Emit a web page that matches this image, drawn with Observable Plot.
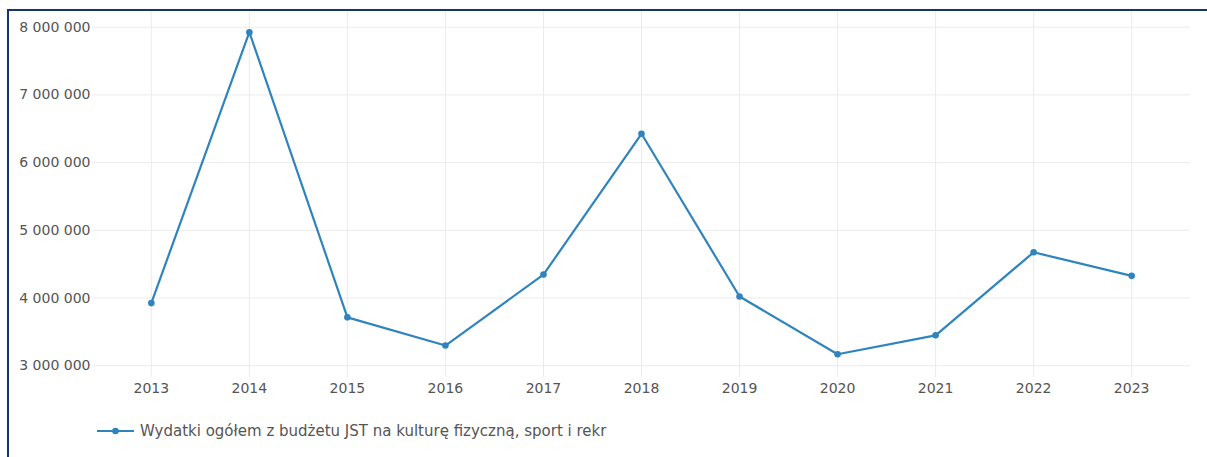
<!DOCTYPE html>
<html>
<head>
<meta charset="utf-8">
<script src="https://cdn.jsdelivr.net/npm/d3@7"></script>
<script src="https://cdn.jsdelivr.net/npm/@observablehq/plot@0.6"></script>
<style>
  html, body { margin: 0; padding: 0; background: #fff; width: 1207px; height: 457px; overflow: hidden; }
  #frame { position: absolute; left: 7px; top: 9px; width: 1300px; height: 600px; border: 2px solid #17346e; box-sizing: border-box; pointer-events: none; }
  #chart { position: absolute; left: 0; top: 0; }
  #legend { position: absolute; left: 97px; top: 421px; height: 20px; display: flex; align-items: center; font-family: "DejaVu Sans", Verdana, sans-serif; font-size: 15px; color: #555; white-space: nowrap; }
  #legend svg { margin-right: 6px; }
</style>
</head>
<body>
<div id="chart"></div>
<div id="legend"></div>
<div id="frame"></div>
<script>
const years = [2013, 2014, 2015, 2016, 2017, 2018, 2019, 2020, 2021, 2022, 2023];
const values = [3926000, 7926000, 3715000, 3299000, 4347000, 6426000, 4024000, 3171000, 3450000, 4676000, 4328000];
const yTicks = [3000000, 4000000, 5000000, 6000000, 7000000, 8000000];
const seriesName = "Wydatki ogółem z budżetu JST na kulturę fizyczną, sport i rekr";

const data = years.map((y, i) => ({year: y, value: values[i]}));
const color = "#2f84be";
const fmt = d => d3.format(",")(d).replace(/,/g, " ");

const chart = Plot.plot({
  width: 1207,
  height: 400,
  marginLeft: 92,
  marginRight: 17,
  marginTop: 11,
  marginBottom: 23,
  style: {fontFamily: "'DejaVu Sans', Verdana, sans-serif", fontSize: "14px", color: "#555", background: "transparent"},
  x: {domain: [2012.4, 2023.6], ticks: years, tickFormat: d => String(d), label: null},
  y: {domain: [2827000, 8232000], ticks: yTicks, tickFormat: fmt, label: null},
  marks: [
    Plot.gridX(years, {stroke: "#ebebeb", strokeOpacity: 1, strokeWidth: 1}),
    Plot.gridY(yTicks, {stroke: "#ebebeb", strokeOpacity: 1, strokeWidth: 1}),
    Plot.axisX(years, {tickSize: 0, tickPadding: 6, fill: "#555", fontSize: 14, tickFormat: d => String(d)}),
    Plot.axisY(yTicks, {tickSize: 0, tickPadding: 2, fill: "#555", fontSize: 14, tickFormat: fmt}),
    Plot.line(data, {x: "year", y: "value", stroke: color, strokeWidth: 2.2}),
    Plot.dot(data, {x: "year", y: "value", fill: color, r: 3.3})
  ]
});
document.getElementById("chart").appendChild(chart);

const legend = document.getElementById("legend");
legend.innerHTML = `<svg width="37" height="10"><line x1="0" y1="5" x2="37" y2="5" stroke="${color}" stroke-width="2.2"/><circle cx="18.5" cy="5" r="3.3" fill="${color}"/></svg><span></span>`;
legend.querySelector("span").textContent = seriesName;
</script>
</body>
</html>
